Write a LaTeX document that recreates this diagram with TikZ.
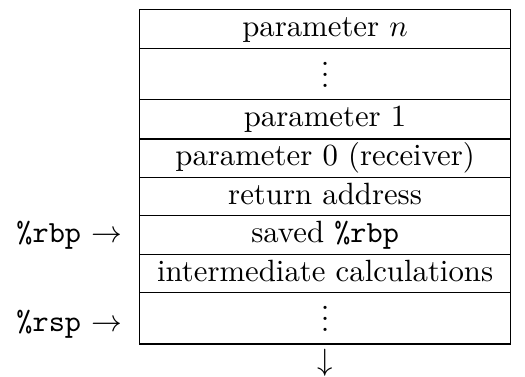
\documentclass[tikz,border=0pt]{standalone}
\begin{document}
\begin{tikzpicture}[x=0.356pt,y=-0.356pt,
  font=\fontsize{10.95}{13.6}\selectfont,
  cell/.style={draw, line width=0.4pt, rectangle, anchor=north,
    inner xsep=0pt, inner ysep=0pt, outer sep=0pt,
    minimum width=132.15pt, minimum height=0pt},
  reg/.style={anchor=base east, inner sep=0pt}]
\useasboundingbox (0,0) rectangle (525,376);
% stack frame, one cell per slot, highest address on top
\node[cell, text height=9.54pt, text depth=4.20pt] (r1) at (325.1,9.7)   {parameter $n$};
\node[cell, text height=13.96pt, text depth=4.20pt] (r2) at (325.1,48.3) {$\vdots$};
\node[cell, text height=9.75pt, text depth=4.38pt] (r3) at (325.1,99.3)  {parameter 1};
\node[cell, text height=9.54pt, text depth=4.24pt] (r4) at (325.1,139)   {parameter 0 (receiver)};
\node[cell, text height=9.54pt, text depth=3.99pt] (r5) at (325.1,177.7) {return address};
\node[cell, text height=9.36pt, text depth=4.38pt] (r6) at (325.1,215.7) {saved \texttt{\%rbp}};
\node[cell, text height=9.51pt, text depth=4.17pt] (r7) at (325.1,254.3) {intermediate calculations};
\node[cell, text height=13.81pt, text depth=4.45pt] (r8) at (325.1,292.7) {$\vdots$};
% register pointers
\node[reg] (rbp) at ([xshift=-6pt]r6.base west) {\texttt{\%rbp} $\rightarrow$};
\node[reg] (rsp) at ([xshift=-6pt]r8.base west) {\texttt{\%rsp} $\rightarrow$};
% growth direction
\node[anchor=base, inner sep=0pt] (grow) at ([yshift=-9.3pt]r8.south) {$\downarrow$};
\end{tikzpicture}
\end{document}
